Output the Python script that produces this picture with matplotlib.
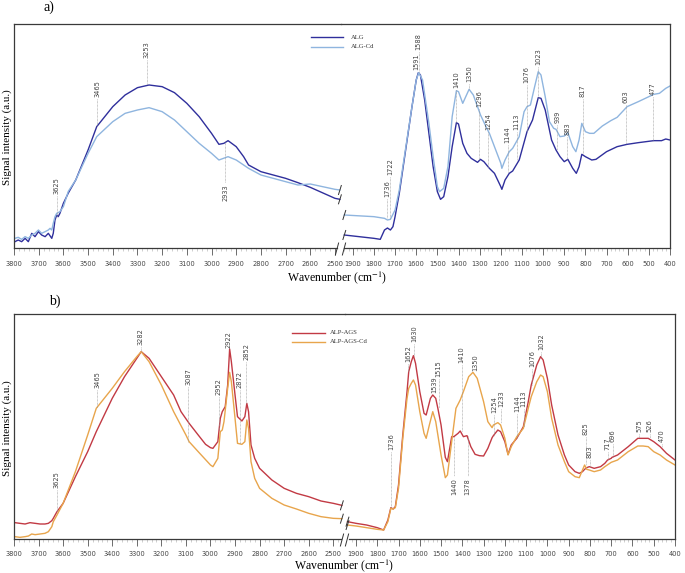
import matplotlib.pyplot as plt
from matplotlib.lines import Line2D

plt.rcParams['font.family'] = ['DejaVu Sans']
plt.rcParams['mathtext.fontset'] = 'stix'

# ---------------- panel a) : ALG / ALG-Cd (arbitrary intensity units) ----------------
alg_hi_wn = [3796, 3783, 3769, 3755, 3742, 3728, 3715, 3701, 3688, 3674,
             3661, 3647, 3641, 3634, 3627, 3621, 3614, 3607, 3600, 3580,
             3550, 3500, 3465, 3400, 3350, 3300, 3253, 3200, 3150, 3100,
             3050, 3000, 2970, 2950, 2933, 2900, 2870, 2850, 2800, 2700,
             2650, 2600, 2500, 2480]
alg_hi_i = [19, 24, 19, 29, 19, 44, 34, 49, 39, 34,
            44, 29, 44, 84, 99, 94, 104, 119, 134, 165,
            204, 294, 364, 424, 459, 481, 489, 484, 466, 434,
            394, 344, 311, 314, 322, 304, 274, 249, 229, 209,
            196, 182, 149, 146]
algcd_hi_wn = [3796, 3783, 3769, 3755, 3742, 3728, 3715, 3701, 3688, 3674,
               3661, 3654, 3647, 3641, 3634, 3627, 3614, 3600, 3580, 3550,
               3500, 3465, 3400, 3350, 3300, 3253, 3200, 3150, 3100, 3050,
               3000, 2970, 2933, 2900, 2850, 2800, 2700, 2650, 2600, 2500,
               2480]
algcd_hi_i = [29, 32, 26, 34, 29, 39, 44, 54, 44, 49,
              54, 59, 54, 74, 94, 104, 109, 124, 170, 204,
              284, 334, 379, 404, 414, 421, 409, 384, 349, 314,
              284, 264, 274, 264, 239, 219, 199, 189, 192, 176,
              174]
alg_lo_wn = [1940, 1800, 1770, 1750, 1736, 1722, 1710, 1700, 1680, 1650,
             1620, 1600, 1590, 1580, 1560, 1540, 1520, 1500, 1485, 1470,
             1450, 1430, 1410, 1400, 1380, 1360, 1340, 1310, 1296, 1280,
             1254, 1230, 1200, 1195, 1180, 1160, 1144, 1113, 1076, 1050,
             1023, 1010, 990, 960, 939, 920, 900, 883, 860, 843,
             830, 817, 800, 770, 750, 700, 650, 603, 550, 477,
             440, 420, 400]
alg_lo_i = [39, 29, 26, 54, 60, 54, 64, 94, 164, 294,
            424, 504, 526, 519, 444, 344, 244, 169, 146, 154,
            214, 304, 376, 372, 314, 284, 269, 257, 266, 259,
            239, 224, 184, 176, 204, 224, 231, 264, 349, 384,
            451, 449, 414, 324, 294, 274, 259, 266, 239, 224,
            244, 281, 274, 264, 266, 289, 304, 311, 316, 322,
            322, 327, 324]
algcd_lo_wn = [1940, 1800, 1750, 1736, 1722, 1700, 1680, 1650, 1620, 1600,
               1588, 1570, 1540, 1520, 1500, 1490, 1470, 1450, 1430, 1410,
               1400, 1380, 1350, 1330, 1310, 1296, 1270, 1254, 1230, 1200,
               1195, 1180, 1160, 1144, 1113, 1090, 1076, 1060, 1040, 1023,
               1010, 990, 970, 950, 939, 920, 900, 883, 860, 845,
               830, 817, 800, 780, 760, 720, 680, 650, 603, 550,
               500, 477, 450, 420, 400]
algcd_lo_i = [99, 94, 89, 84, 86, 114, 174, 299, 424, 504,
              526, 504, 374, 274, 184, 169, 179, 244, 394, 472,
              469, 434, 476, 459, 424, 399, 364, 344, 304, 254,
              239, 264, 289, 299, 334, 409, 424, 429, 484, 529,
              519, 454, 379, 359, 356, 334, 336, 346, 304, 289,
              324, 374, 349, 344, 344, 366, 382, 392, 424, 439,
              454, 461, 464, 479, 486]

# ---------------- panel b) : ALP-AGS / ALP-AGS-Cd ----------------
ags_hi_wn = [3796, 3776, 3755, 3735, 3714, 3694, 3674, 3660, 3646, 3640,
             3625, 3600, 3550, 3500, 3465, 3400, 3350, 3300, 3282, 3250,
             3200, 3150, 3120, 3087, 3050, 3020, 3000, 2990, 2970, 2960,
             2952, 2940, 2930, 2922, 2915, 2900, 2890, 2872, 2860, 2852,
             2845, 2835, 2820, 2800, 2750, 2700, 2650, 2600, 2550, 2500,
             2465]
ags_hi_i = [49, 47, 45, 49, 47, 45, 45, 47, 55, 62,
            82, 107, 187, 262, 322, 422, 487, 542, 562, 542,
            487, 432, 382, 347, 312, 284, 274, 272, 292, 362,
            382, 397, 462, 570, 532, 432, 367, 354, 367, 407,
            382, 282, 242, 212, 177, 152, 137, 127, 114, 107,
            101]
agscd_hi_wn = [3796, 3776, 3755, 3741, 3728, 3714, 3694, 3674, 3660, 3646,
               3640, 3625, 3600, 3550, 3500, 3465, 3400, 3350, 3300, 3282,
               3250, 3200, 3150, 3100, 3087, 3050, 3000, 2990, 2970, 2960,
               2952, 2945, 2930, 2922, 2915, 2900, 2890, 2872, 2860, 2852,
               2845, 2835, 2820, 2800, 2750, 2700, 2650, 2600, 2550, 2500,
               2465]
agscd_hi_i = [7, 5, 7, 9, 15, 13, 15, 17, 22, 37,
              52, 72, 107, 202, 312, 392, 452, 502, 547, 562,
              532, 462, 382, 312, 292, 262, 222, 217, 242, 322,
              327, 352, 452, 500, 472, 362, 287, 284, 292, 357,
              332, 232, 182, 152, 122, 102, 90, 77, 67, 62,
              61]
ags_lo_wn = [1940, 1900, 1850, 1800, 1770, 1750, 1736, 1725, 1715, 1700,
             1680, 1660, 1652, 1640, 1630, 1620, 1600, 1580, 1570, 1550,
             1539, 1525, 1515, 1500, 1480, 1470, 1450, 1440, 1420, 1410,
             1395, 1378, 1360, 1340, 1320, 1300, 1280, 1260, 1254, 1233,
             1220, 1200, 1185, 1170, 1144, 1113, 1090, 1076, 1050, 1032,
             1020, 1000, 980, 950, 920, 900, 870, 850, 835, 825,
             815, 803, 780, 750, 730, 717, 700, 696, 670, 620,
             575, 550, 526, 500, 470, 440, 400]
ags_lo_i = [52, 47, 42, 34, 27, 57, 94, 90, 97, 162,
            312, 442, 502, 532, 550, 527, 442, 377, 372, 422,
            432, 422, 392, 342, 245, 232, 307, 307, 317, 324,
            307, 310, 277, 254, 250, 249, 272, 304, 310, 327,
            322, 292, 254, 282, 302, 337, 412, 462, 522, 547,
            537, 482, 402, 312, 252, 222, 202, 197, 202, 209,
            214, 217, 212, 217, 227, 237, 242, 245, 252, 277,
            302, 302, 302, 292, 277, 257, 237]
agscd_lo_wn = [1940, 1900, 1850, 1800, 1770, 1750, 1736, 1725, 1715, 1700,
               1680, 1660, 1652, 1640, 1630, 1620, 1600, 1580, 1570, 1555,
               1539, 1525, 1515, 1500, 1480, 1470, 1450, 1430, 1410, 1395,
               1370, 1350, 1330, 1300, 1280, 1260, 1254, 1233, 1220, 1200,
               1185, 1170, 1144, 1113, 1090, 1076, 1050, 1032, 1020, 1000,
               980, 950, 920, 900, 870, 850, 835, 825, 815, 803,
               780, 750, 730, 700, 670, 620, 575, 550, 526, 500,
               470, 440, 400]
agscd_lo_i = [42, 39, 34, 29, 27, 52, 92, 90, 94, 152,
              302, 422, 452, 467, 477, 462, 382, 317, 302, 342,
              382, 352, 312, 252, 184, 192, 292, 392, 417, 442,
              487, 500, 482, 412, 352, 334, 342, 349, 342, 302,
              252, 277, 307, 332, 392, 427, 472, 492, 487, 442,
              362, 282, 232, 202, 187, 184, 207, 222, 209, 207,
              202, 207, 217, 230, 237, 262, 279, 279, 277, 262,
              252, 237, 222]

# peak labels: (text, x position, label height, line end, label above curve)
peaks_a_hi = [('3625', 3627, 161, 94, True), ('3465', 3462, 454, 366, True),
              ('3253', 3263, 569, 489, True), ('2933', 2945, 191, 322, False)]
peaks_a_lo = [('1736', 1738, 154, 89, True), ('1722', 1724, 219, 86, True),
              ('1591', 1602, 534, 534, True), ('1588', 1588, 594, 528, True),
              ('1410', 1410, 479, 376, True), ('1350', 1349, 499, 476, True),
              ('1296', 1303, 424, 264, True), ('1254', 1259, 354, 239, True),
              ('1144', 1168, 314, 229, True), ('1113', 1125, 354, 264, True),
              ('1076', 1078, 494, 349, True), ('1023', 1023, 549, 451, True),
              ('939', 933, 374, 294, True), ('883', 886, 339, 264, True),
              ('817', 813, 454, 281, True), ('603', 610, 434, 311, True),
              ('477', 480, 459, 322, True)]
peaks_b_hi = [('3625', 3626, 152, 82, True), ('3465', 3461, 452, 392, True),
              ('3282', 3284, 582, 562, True), ('3087', 3090, 462, 292, True),
              ('2952', 2966, 432, 327, True), ('2922', 2928, 574, 574, True),
              ('2872', 2880, 452, 284, True), ('2852', 2854, 537, 407, True)]
peaks_b_lo = [('1736', 1735, 267, 97, True), ('1652', 1654, 532, 502, True),
              ('1630', 1627, 592, 550, True), ('1539', 1532, 437, 437, True),
              ('1515', 1511, 487, 392, True), ('1440', 1439, 182, 307, False),
              ('1410', 1403, 527, 324, True), ('1378', 1375, 182, 310, False),
              ('1350', 1340, 505, 505, True), ('1254', 1251, 377, 310, True),
              ('1233', 1218, 397, 349, True), ('1144', 1143, 382, 302, True),
              ('1113', 1112, 397, 337, True), ('1076', 1071, 517, 462, True),
              ('1032', 1029, 567, 547, True), ('825', 820, 312, 222, True),
              ('803', 800, 242, 217, True), ('717', 717, 267, 237, True),
              ('696', 693, 292, 245, True), ('575', 569, 322, 302, True),
              ('526', 518, 322, 302, True), ('470', 463, 292, 277, True)]

W, H = 685, 573
SERIF = ['Liberation Serif', 'DejaVu Serif']
fig = plt.figure(figsize=(W / 100, H / 100), dpi=100)


def box(x0, x1, y_top, y_bot):
    return [x0 / W, 1 - y_bot / H, (x1 - x0) / W, (y_bot - y_top) / H]


def style(ax, xlim, ymax, majors, bounds, hide):
    ax.set_xlim(*xlim)
    ax.set_ylim(0, ymax)
    ax.set_yticks([])
    ax.set_xticks(majors)
    lo, hi = bounds
    ax.set_xticks([v for v in range(3800, 390, -20) if hi <= v <= lo], minor=True)
    ax.tick_params(axis='x', which='major', length=5, width=0.6, color='#555555',
                   labelsize=4.8, labelcolor='#444444', pad=4)
    ax.tick_params(axis='x', which='minor', length=2.5, width=0.4, color='#aaaaaa')
    for s in ax.spines.values():
        s.set_color('#3a3a3a')
        s.set_linewidth(0.9)
    ax.spines['bottom'].set_bounds(lo, hi)
    ax.spines[hide].set_visible(False)
    ax.patch.set_alpha(0)


def peaks(ax, items):
    for text, x, yt, ye, above in items:
        if above and ye < yt - 8:
            ax.plot([x, x], [yt - 6, ye], color='#9a9a9a', lw=0.5, ls=(0, (1, 1)))
        if not above:
            ax.plot([x, x], [ye, yt + 6], color='#9a9a9a', lw=0.5, ls=(0, (1, 1)))
        ax.text(x, yt, text, rotation=90, ha='center', va='bottom' if above else 'top',
                fontsize=4.8, color='#444444')


def slash(xpx, ypx, hh=5, hw=1.6):
    fig.add_artist(Line2D([(xpx - hw) / W, (xpx + hw) / W],
                          [1 - (ypx + hh) / H, 1 - (ypx - hh) / H],
                          color='#333333', lw=0.7))


def end_mark(ax, x, y):
    dx, dy = ax.transData.transform((x, y))
    slash(dx, H - dy, hh=4.5, hw=1.4)


def panel(y_top, y_bot, split, right, xl_hi, xl_lo, b_hi, b_lo, ymax,
          series, pk_hi, pk_lo, gap_px):
    ax1 = fig.add_axes(box(14, split, y_top, y_bot))
    ax2 = fig.add_axes(box(split, right, y_top, y_bot))
    style(ax1, xl_hi, ymax, list(range(3800, 2499, -100)), b_hi, 'right')
    style(ax2, xl_lo, ymax, list(range(1900, 399, -100)), b_lo, 'left')
    for wh, ih, wl, il, color, label in series:
        ax1.plot(wh, ih, color=color, lw=1.0)
        ax2.plot(wl, il, color=color, lw=1.0)
    peaks(ax1, pk_hi)
    peaks(ax2, pk_lo)
    for wh, ih, wl, il, color, label in series:
        end_mark(ax1, wh[-1], ih[-1])
        end_mark(ax2, wl[0], il[0])
    for gx in gap_px:
        slash(gx, y_bot + 1, hh=6, hw=1.6)
    return ax1, ax2


series_a = [(alg_hi_wn, alg_hi_i, alg_lo_wn, alg_lo_i, '#2f2f9c', 'ALG'),
            (algcd_hi_wn, algcd_hi_i, algcd_lo_wn, algcd_lo_i, '#8fb5df', 'ALG-Cd')]
series_b = [(ags_hi_wn, ags_hi_i, ags_lo_wn, ags_lo_i, '#c23a44', 'ALP-AGS'),
            (agscd_hi_wn, agscd_hi_i, agscd_lo_wn, agscd_lo_i, '#e8a54c', 'ALP-AGS-Cd')]

panel(24, 248, 340.5, 670, (3800, 2477.6), (1958, 400), (3800, 2490), (1940, 400), 672,
      series_a, peaks_a_hi, peaks_a_lo, [337, 344])
panel(314, 539, 344.5, 675, (3800, 2454.3), (1954, 400), (3800, 2470), (1933, 400), 675,
      series_b, peaks_b_hi, peaks_b_lo, [342, 347])

# legends drawn by hand
for (x0, x1, xt, ys), series in [((311, 343, 351, (37.3, 47)), series_a),
                                 ((292, 325, 330, (332.7, 341.7)), series_b)]:
    for yy, s in zip(ys, series):
        fig.add_artist(Line2D([x0 / W, x1 / W], [1 - yy / H, 1 - yy / H], color=s[4], lw=1.0))
        fig.text(xt / W, 1 - yy / H, s[5], fontsize=4.8, family=SERIF, color='#333333',
                 ha='left', va='center')

fig.text(49 / W, 1 - 7 / H, 'a)', fontsize=10, family=SERIF, ha='center', va='center')
fig.text(55 / W, 1 - 301 / H, 'b)', fontsize=10, family=SERIF, ha='center', va='center')
for yc in (137, 428):
    fig.text(7 / W, 1 - yc / H, 'Signal intensity (a.u.)', rotation=90, fontsize=8,
             family=SERIF, ha='center', va='center')
fig.text(337 / W, 1 - 278 / H, 'Wavenumber (cm$^{-1}$)', fontsize=8.5, family=SERIF,
         ha='center', va='center')
fig.text(344 / W, 1 - 566 / H, 'Wavenumber (cm$^{-1}$)', fontsize=8.5, family=SERIF,
         ha='center', va='center')

fig.savefig('out.png', dpi=100)
